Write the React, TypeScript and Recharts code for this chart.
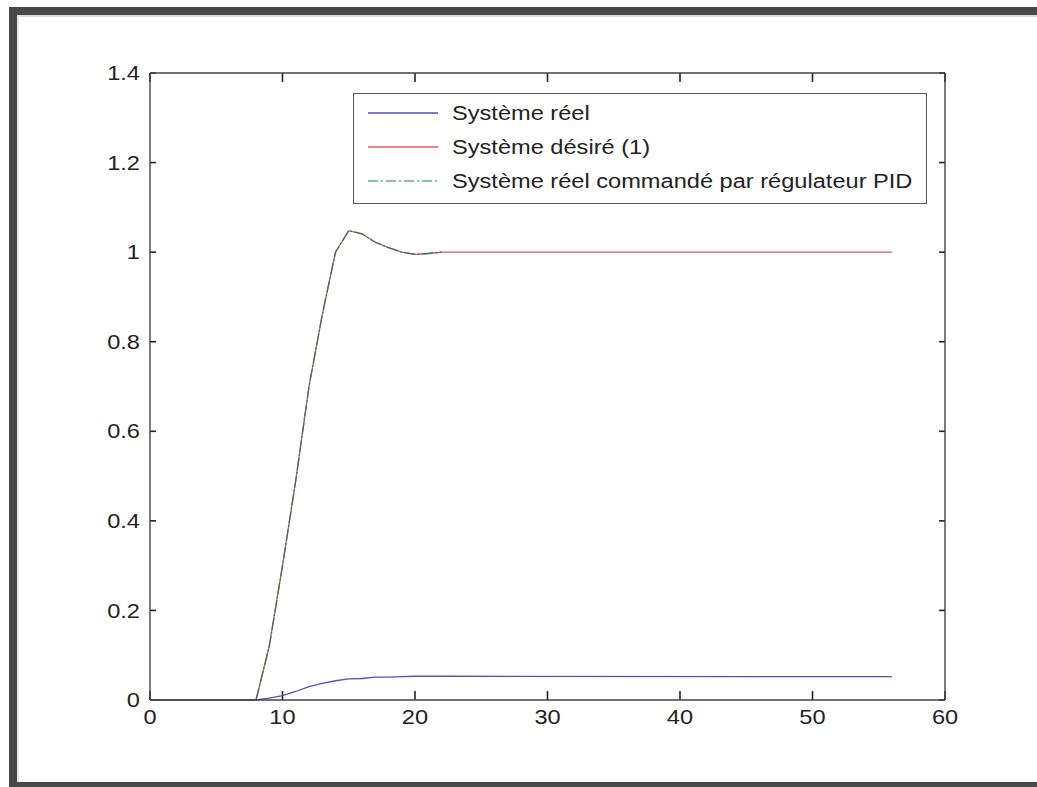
import { LineChart, Line, XAxis, YAxis, Legend, ReferenceLine } from "recharts";

const temps = [0, 8, 9, 10, 11, 12, 13, 14, 15, 16, 17, 18, 19, 20, 21, 22, 56];
const systemeDesire = [0, 0, 0.12, 0.3, 0.49, 0.7, 0.86, 1.0, 1.048, 1.041, 1.022, 1.01, 1.0, 0.995, 0.997, 1.0, 1.0];
const systemePID = [null, 0, 0.12, 0.3, 0.49, 0.7, 0.86, 1.0, 1.048, 1.041, 1.022, 1.01, 1.0, 0.995, 0.997, 1.0, null];
const systemeReel = [0, 0, 0.004, 0.01, 0.019, 0.03, 0.037, 0.043, 0.047, 0.048, 0.051, 0.051, 0.052, 0.053, 0.053, 0.053, 0.052];

const xTicks = [0, 10, 20, 30, 40, 50, 60];
const yTicks = [0, 0.2, 0.4, 0.6, 0.8, 1, 1.2, 1.4];

const legendItems = [
  { label: "Système réel", color: "#5252b8", dash: undefined },
  { label: "Système désiré (1)", color: "#d95c5c", dash: undefined },
  { label: "Système réel commandé par régulateur PID", color: "#5fae9c", dash: "10 3 2 3" },
];

const data = temps.map((t, i) => ({
  t,
  reel: systemeReel[i],
  desire: systemeDesire[i],
  pid: systemePID[i],
}));

const xMin = 0;
const xMax = 60;
const yMin = 0;
const yMax = 1.4;
// inward tick length, in axis units (about 6px)
const xMarkLen = 0.45;
const yMarkLen = 0.02;

// MATLAB-style inward tick marks on all four sides of the box
const tickMarks = [
  ...xTicks.map((v) => [{ x: v, y: yMin }, { x: v, y: yMin + yMarkLen }]),
  ...xTicks.map((v) => [{ x: v, y: yMax }, { x: v, y: yMax - yMarkLen }]),
  ...yTicks.map((v) => [{ x: xMin, y: v }, { x: xMin + xMarkLen, y: v }]),
  ...yTicks.map((v) => [{ x: xMax, y: v }, { x: xMax - xMarkLen, y: v }]),
];

const font = '"Liberation Sans", Arial, sans-serif';
const axisColor = "#444";
// the scan is a bit wider than the real font
const stretch = 1.18;

// tick label, stretched horizontally like the scan
function StretchTick(props: any) {
  const { payload, textAnchor, dy } = props;
  const x = Number(props.x);
  const y = Number(props.y);
  return (
    <text
      x={x}
      y={y}
      dy={dy}
      textAnchor={textAnchor}
      fontSize={20}
      fontFamily={font}
      fill="#222"
      transform={`translate(${x} 0) scale(${stretch} 1) translate(${-x} 0)`}
    >
      {String(payload.value)}
    </text>
  );
}

function LegendBox() {
  return (
    <div
      style={{
        width: 574,
        height: 111,
        boxSizing: "border-box",
        border: "1.5px solid #555",
        background: "#fff",
        fontFamily: font,
        fontSize: 20,
        color: "#222",
        paddingTop: 2,
      }}
    >
      {legendItems.map((item) => (
        <div key={item.label} style={{ display: "flex", alignItems: "center", height: 34 }}>
          <svg width={98} height={10} style={{ flex: "none" }}>
            <line
              x1={14}
              x2={84}
              y1={5}
              y2={5}
              stroke={item.color}
              strokeWidth={1.3}
              strokeDasharray={item.dash}
            />
          </svg>
          <span
            style={{
              display: "inline-block",
              whiteSpace: "nowrap",
              transform: `scaleX(${stretch})`,
              transformOrigin: "left center",
            }}
          >
            {item.label}
          </span>
        </div>
      ))}
    </div>
  );
}

export default function App() {
  return (
    <div
      style={{
        position: "fixed",
        left: 0,
        top: 0,
        width: 1037,
        height: 787,
        background: "#fff",
        overflow: "hidden",
      }}
    >
      {/* scanned page frame */}
      <div
        style={{
          position: "absolute",
          left: 9,
          top: 7,
          width: 1060,
          height: 781,
          boxSizing: "border-box",
          borderTop: "8px solid #484848",
          borderLeft: "8px solid #484848",
          borderBottom: "6px solid #484848",
        }}
      >
        <div
          style={{
            position: "absolute",
            left: 0,
            top: 0,
            right: 0,
            bottom: 0,
            borderTop: "2px solid #dcdcdc",
            borderLeft: "2px solid #e2e2e2",
          }}
        />
      </div>
      <div style={{ position: "absolute", left: 0, top: 0 }}>
        <LineChart
          width={1037}
          height={787}
          data={data}
          margin={{ top: 63, left: 90, right: 82, bottom: 57 }}
        >
          <XAxis
            dataKey="t"
            type="number"
            domain={[xMin, xMax]}
            ticks={xTicks}
            tickSize={0}
            tickMargin={10}
            tickLine={false}
            stroke={axisColor}
            strokeWidth={1.4}
            height={30}
            tick={<StretchTick dy="0.71em" />}
          />
          <XAxis
            xAxisId="top"
            orientation="top"
            dataKey="t"
            type="number"
            domain={[xMin, xMax]}
            ticks={xTicks}
            tick={false}
            tickLine={false}
            stroke={axisColor}
            strokeWidth={1.4}
            height={10}
          />
          <YAxis
            type="number"
            domain={[yMin, yMax]}
            ticks={yTicks}
            tickSize={0}
            tickMargin={10}
            tickLine={false}
            stroke={axisColor}
            strokeWidth={1.4}
            width={60}
            tick={<StretchTick dy="0.36em" />}
          />
          <YAxis
            yAxisId="right"
            orientation="right"
            type="number"
            domain={[yMin, yMax]}
            ticks={yTicks}
            tick={false}
            tickLine={false}
            stroke={axisColor}
            strokeWidth={1.4}
            width={10}
          />
          {tickMarks.map((seg, i) => (
            <ReferenceLine
              key={i}
              segment={seg}
              stroke="#222"
              strokeWidth={1.6}
              ifOverflow="visible"
            />
          ))}
          <Legend
            layout="vertical"
            align="center"
            verticalAlign="middle"
            content={() => <LegendBox />}
            wrapperStyle={{ left: 353, top: 93, width: 574 }}
          />
          <Line
            dataKey="desire"
            name="Système désiré (1)"
            stroke="#d95c5c"
            strokeWidth={1.3}
            dot={false}
            isAnimationActive={false}
          />
          <Line
            dataKey="reel"
            name="Système réel"
            stroke="#5252b8"
            strokeWidth={1.3}
            dot={false}
            isAnimationActive={false}
          />
          <Line
            dataKey="pid"
            name="Système réel commandé par régulateur PID"
            stroke="#3d6e64"
            strokeWidth={1.3}
            strokeDasharray="12 2 2 2"
            dot={false}
            connectNulls={false}
            isAnimationActive={false}
          />
        </LineChart>
      </div>
    </div>
  );
}
